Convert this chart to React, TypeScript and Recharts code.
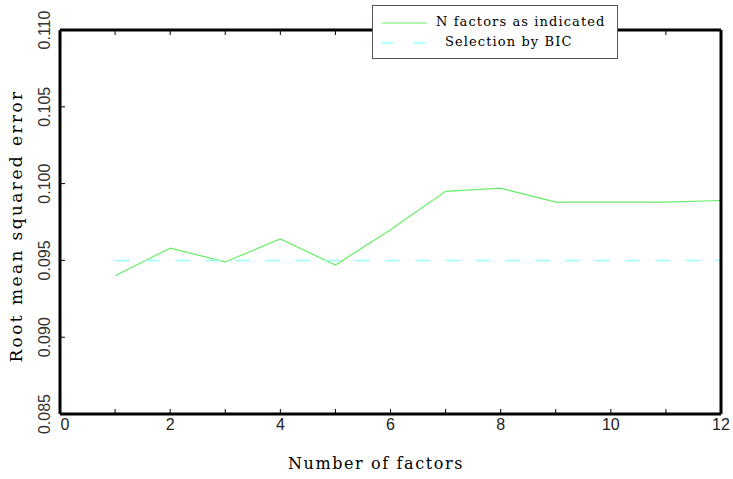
import { CartesianGrid, Legend, Line, LineChart, XAxis, YAxis } from 'recharts';

const factors = [1, 2, 3, 4, 5, 6, 7, 8, 9, 10, 11, 12];
const rmseByFactors = [0.094, 0.0958, 0.0949, 0.0964, 0.0947, 0.097, 0.0995, 0.0997, 0.0988, 0.0988, 0.0988, 0.0989];
const rmseByBic = [0.095, 0.095, 0.095, 0.095, 0.095, 0.095, 0.095, 0.095, 0.095, 0.095, 0.095, 0.095];
const xTicks = [0, 1, 2, 3, 4, 5, 6, 7, 8, 9, 10, 11, 12];
const yTicks = [0.085, 0.09, 0.095, 0.1, 0.105, 0.11];

const data = factors.map((n, i) => ({ n, rmse: rmseByFactors[i], bic: rmseByBic[i] }));

const GREEN = '#66ee66';
const CYAN = '#99ffff';
const SERIF = '"DejaVu Serif", "Liberation Serif", serif';
const SANS = '"Liberation Sans", Arial, sans-serif';

function BottomTick({ x, y, payload }: any) {
	const v = payload.value;
	return (
		<g>
			<line x1={x} y1={y} x2={x} y2={y - 5} stroke="#000" strokeWidth={1} />
			{v % 2 === 0 && (
				<text x={v === 0 ? x + 5 : x} y={y + 16} textAnchor="middle" fontFamily={SANS} fontSize={16} fill="#222">
					{v}
				</text>
			)}
		</g>
	);
}

function TopTick({ x, y }: any) {
	return <line x1={x} y1={y} x2={x} y2={y + 5} stroke="#000" strokeWidth={1} />;
}

function LeftTick({ x, y, payload }: any) {
	return (
		<g>
			<line x1={x} y1={y} x2={x + 5} y2={y} stroke="#000" strokeWidth={1} />
			<text
				x={x - 10}
				y={y}
				transform={`rotate(-90, ${x - 10}, ${y})`}
				textAnchor="middle"
				fontFamily={SANS}
				fontSize={16}
				fill="#333"
			>
				{payload.value.toFixed(3)}
			</text>
		</g>
	);
}

function RightTick({ x, y }: any) {
	return <line x1={x} y1={y} x2={x - 5} y2={y} stroke="#000" strokeWidth={1} />;
}

function XTitle() {
	return (
		<text x={376} y={469} textAnchor="middle" fontFamily={SERIF} fontSize={16} letterSpacing={1.6} fill="#000">
			Number of factors
		</text>
	);
}

function YTitle() {
	return (
		<text
			x={22}
			y={226}
			transform="rotate(-90, 22, 226)"
			textAnchor="middle"
			fontFamily={SERIF}
			fontSize={17}
			letterSpacing={2.4}
			fill="#000"
		>
			Root mean squared error
		</text>
	);
}

function LegendBox() {
	return (
		<div
			style={{
				width: 246,
				height: 54,
				background: '#fff',
				border: '1px solid #555',
				boxSizing: 'border-box',
				position: 'relative',
				fontFamily: SERIF,
				fontSize: 13,
				letterSpacing: 1.1,
				color: '#000',
			}}
		>
			<svg width={60} height={54} style={{ position: 'absolute', left: 0, top: 0 }}>
				<line x1={9} y1={17} x2={54} y2={17} stroke={GREEN} strokeWidth={1} />
				<line x1={9} y1={37} x2={54} y2={37} stroke={CYAN} strokeWidth={1.5} strokeDasharray="11 21" />
			</svg>
			<div style={{ position: 'absolute', left: 63, top: 8, whiteSpace: 'nowrap' }}>N factors as indicated</div>
			<div style={{ position: 'absolute', left: 72, top: 28, whiteSpace: 'nowrap' }}>Selection by BIC</div>
		</div>
	);
}

export default function App() {
	return (
		<div style={{ position: 'absolute', left: 0, top: 0, width: 733, height: 479, background: '#fff' }}>
			<LineChart width={733} height={479} data={data} margin={{ top: 29, right: 11, bottom: 35, left: 0 }}>
				<CartesianGrid horizontal={false} vertical={false} />
				<XAxis
					xAxisId="bottom"
					dataKey="n"
					type="number"
					domain={[0, 12]}
					ticks={xTicks}
					interval={0}
					height={30}
					tickSize={0}
					tickMargin={0}
					tickLine={false}
					axisLine={{ stroke: '#000', strokeWidth: 3 }}
					tick={<BottomTick />}
					label={<XTitle />}
				/>
				<XAxis
					xAxisId="top"
					dataKey="n"
					type="number"
					orientation="top"
					domain={[0, 12]}
					ticks={xTicks}
					interval={0}
					height={1}
					tickSize={0}
					tickMargin={0}
					tickLine={false}
					axisLine={{ stroke: '#000', strokeWidth: 3 }}
					tick={<TopTick />}
				/>
				<YAxis
					yAxisId="left"
					type="number"
					domain={[0.085, 0.11]}
					ticks={yTicks}
					interval={0}
					width={60}
					tickSize={0}
					tickMargin={0}
					tickLine={false}
					axisLine={{ stroke: '#000', strokeWidth: 3 }}
					tick={<LeftTick />}
					label={<YTitle />}
				/>
				<YAxis
					yAxisId="right"
					orientation="right"
					type="number"
					domain={[0.085, 0.11]}
					ticks={yTicks}
					interval={0}
					width={1}
					tickSize={0}
					tickMargin={0}
					tickLine={false}
					axisLine={{ stroke: '#000', strokeWidth: 3 }}
					tick={<RightTick />}
				/>
				<Line
					xAxisId="bottom"
					yAxisId="left"
					dataKey="rmse"
					stroke={GREEN}
					strokeWidth={1.2}
					dot={false}
					isAnimationActive={false}
				/>
				<Line
					xAxisId="bottom"
					yAxisId="left"
					dataKey="bic"
					stroke={CYAN}
					strokeWidth={1.5}
					strokeDasharray="15 15"
					dot={false}
					isAnimationActive={false}
				/>
				<Legend
					layout="vertical"
					verticalAlign="middle"
					align="center"
					content={<LegendBox />}
					wrapperStyle={{ top: 5, left: 372, width: 246 }}
				/>
			</LineChart>
		</div>
	);
}
